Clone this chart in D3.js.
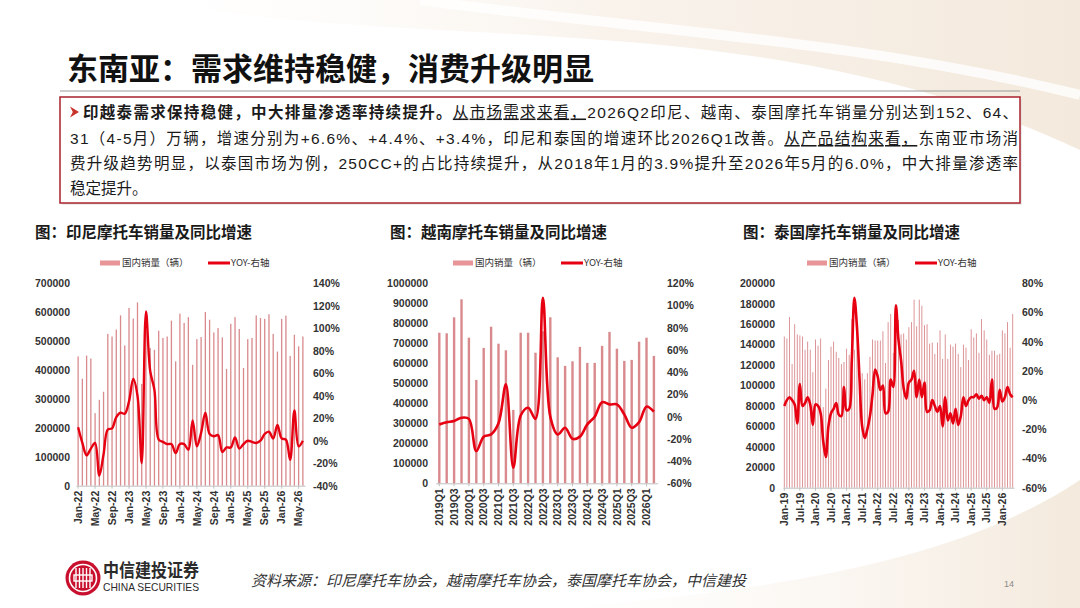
<!DOCTYPE html>
<html>
<head>
<meta charset="UTF-8">
<title>东南亚：需求维持稳健，消费升级明显</title>
<script src="https://d3js.org/d3.v7.min.js"></script>
<style>
body { margin: 0; background: #fff; }
figure { margin: 0; }
svg { display: block; }
</style>
</head>
<body>

<figure class=chart></figure>

<script type="text/javascript">

/* Data */
// Indonesia, monthly, Jan-22 .. Jun-26
var idnMonths = [
	'Jan-22','Feb-22','Mar-22','Apr-22','May-22','Jun-22','Jul-22','Aug-22','Sep-22','Oct-22','Nov-22','Dec-22',
	'Jan-23','Feb-23','Mar-23','Apr-23','May-23','Jun-23','Jul-23','Aug-23','Sep-23','Oct-23','Nov-23','Dec-23',
	'Jan-24','Feb-24','Mar-24','Apr-24','May-24','Jun-24','Jul-24','Aug-24','Sep-24','Oct-24','Nov-24','Dec-24',
	'Jan-25','Feb-25','Mar-25','Apr-25','May-25','Jun-25','Jul-25','Aug-25','Sep-25','Oct-25','Nov-25','Dec-25',
	'Jan-26','Feb-26','Mar-26','Apr-26','May-26','Jun-26']
var idnSales = [
	447000,370000,450000,440000,251000,297000,325000,525000,516000,540000,589000,485000,
	615000,578000,634000,352000,537000,476000,470000,536000,511000,516000,571000,430000,
	595000,563000,583000,418000,507000,514000,601000,574000,530000,545000,513000,404000,
	560000,583000,542000,407000,507000,511000,589000,580000,577000,593000,525000,464000,
	577000,588000,449000,522000,482000,516000]
var idnYoy = [
	12,-2,-13,-7,-2,-31,-12,10,11,21,25,24,
	35,55,40,-20,115,62,45,1,-1,-3,-3,-11,
	-3,-3,-8,18,-5,7,25,6,4,5,-10,-6,
	-6,3,-7,-3,0,-1,-2,0,6,8,2,14,
	2,1,-17,27,-5,0]
var idnTicks = ['Jan-22','May-22','Sep-22','Jan-23','May-23','Sep-23','Jan-24','May-24','Sep-24','Jan-25','May-25','Sep-25','Jan-26','May-26']
var idnLeftTicks = [0,100000,200000,300000,400000,500000,600000,700000]
var idnRightTicks = [-40,-20,0,20,40,60,80,100,120,140]

// Vietnam, quarterly, 2019Q1 .. 2026Q2
var vnQuarters = [
	'2019Q1','2019Q2','2019Q3','2019Q4','2020Q1','2020Q2','2020Q3','2020Q4',
	'2021Q1','2021Q2','2021Q3','2021Q4','2022Q1','2022Q2','2022Q3','2022Q4',
	'2023Q1','2023Q2','2023Q3','2023Q4','2024Q1','2024Q2','2024Q3','2024Q4',
	'2025Q1','2025Q2','2025Q3','2025Q4','2026Q1','2026Q2']
var vnSales = [
	753000,750000,830000,920000,728000,517000,677000,783000,
	698000,665000,367000,753000,753000,653000,760000,830000,
	630000,587000,610000,682000,602000,602000,687000,757000,
	673000,612000,617000,708000,728000,637000]
var vnYoy = [
	-7,-5,-4,-1,-2,-31,-18,-16,
	-6,29,-46,1,8,-2,107,0,
	-16,-10,-20,-18,-7,0,13,11,
	11,2,-10,-5,9,4.4]
var vnTicks = ['2019Q1','2019Q3','2020Q1','2020Q3','2021Q1','2021Q3','2022Q1','2022Q3','2023Q1','2023Q3','2024Q1','2024Q3','2025Q1','2025Q3','2026Q1']
var vnLeftTicks = [0,100000,200000,300000,400000,500000,600000,700000,800000,900000,1000000]
var vnRightTicks = [-60,-40,-20,0,20,40,60,80,100,120]

// Thailand, monthly, Jan-19 .. May-26
var thMonths = [
	'Jan-19','Feb-19','Mar-19','Apr-19','May-19','Jun-19','Jul-19','Aug-19','Sep-19','Oct-19','Nov-19','Dec-19',
	'Jan-20','Feb-20','Mar-20','Apr-20','May-20','Jun-20','Jul-20','Aug-20','Sep-20','Oct-20','Nov-20','Dec-20',
	'Jan-21','Feb-21','Mar-21','Apr-21','May-21','Jun-21','Jul-21','Aug-21','Sep-21','Oct-21','Nov-21','Dec-21',
	'Jan-22','Feb-22','Mar-22','Apr-22','May-22','Jun-22','Jul-22','Aug-22','Sep-22','Oct-22','Nov-22','Dec-22',
	'Jan-23','Feb-23','Mar-23','Apr-23','May-23','Jun-23','Jul-23','Aug-23','Sep-23','Oct-23','Nov-23','Dec-23',
	'Jan-24','Feb-24','Mar-24','Apr-24','May-24','Jun-24','Jul-24','Aug-24','Sep-24','Oct-24','Nov-24','Dec-24',
	'Jan-25','Feb-25','Mar-25','Apr-25','May-25','Jun-25','Jul-25','Aug-25','Sep-25','Oct-25','Nov-25','Dec-25',
	'Jan-26','Feb-26','Mar-26','Apr-26','May-26']
var thSales = [
	148000,146000,167000,121000,160000,150000,149000,148000,135000,143000,135000,113000,
	145000,139000,146000,79000,97000,125000,138000,143000,133000,127000,121000,123000,
	136000,130000,165000,135000,162000,120000,112000,106000,112000,128000,145000,144000,
	144000,144000,153000,122000,162000,170000,132000,178000,164000,150000,151000,145000,
	157000,162000,184000,158000,184000,178000,159000,160000,141000,142000,131000,142000,
	154000,126000,150000,126000,140000,138000,141000,131000,118000,140000,137000,125000,
	155000,147000,151000,132000,165000,154000,145000,130000,134000,134000,130000,131000,
	154000,151000,162000,137000,170000]
var thYoy = [
	-4,0,2,0,-3,-16,11,-4,-2,2,-3,-17,
	-3,-4,-9,-28,-39,-18,-9,-6,-2,-10,-11,9,
	-7,-6,27,70,50,14,-18,-26,-20,-11,4,21,
	16,7,10,-9,-8,14,9,65,41,27,8,1,
	12,14,20,2,14,2,12,-8,-7,0,-4,-8,
	-4,-18,2,-14,-9,-16,-6,-17,-11,2,-4,0,
	2,2,4,1,3,0,2,-2,14,-6,-5,7,
	-1,2,9,4,2]
var thTicks = ['Jan-19','Jul-19','Jan-20','Jul-20','Jan-21','Jul-21','Jan-22','Jul-22','Jan-23','Jul-23','Jan-24','Jul-24','Jan-25','Jul-25','Jan-26']
var thLeftTicks = [0,20000,40000,60000,80000,100000,120000,140000,160000,180000,200000]
var thRightTicks = [-60,-40,-20,0,20,40,60,80]

/* Global variables */
var W = 1080, H = 608
var lineRed = '#e60012'
var barPink = '#d98a8d'
var legendPink = '#e89597'
var cjk = "'Noto Sans CJK SC', sans-serif"
var latin = "'Liberation Sans', 'Noto Sans CJK SC', sans-serif"

/* Functions */

function draw_canvas() {
	var svg = d3.select('figure')
		.append('svg')
		.attr('width', W)
		.attr('height', H)

	svg.append('rect')
		.attr('width', W)
		.attr('height', H)
		.style('fill', '#fff')

	var defs = svg.append('defs')
	var gTop = defs.append('linearGradient').attr('id', 'bgTop')
		.attr('x1', 0).attr('y1', 0).attr('x2', 1).attr('y2', 0)
	gTop.append('stop').attr('offset', 0).attr('stop-color', '#fbf6ef').attr('stop-opacity', 0)
	gTop.append('stop').attr('offset', 0.5).attr('stop-color', '#f4e9dc').attr('stop-opacity', 0.8)
	gTop.append('stop').attr('offset', 1).attr('stop-color', '#eddcc8').attr('stop-opacity', 0.9)
	var gBot = defs.append('linearGradient').attr('id', 'bgBot')
		.attr('x1', 0).attr('y1', 0).attr('x2', 1).attr('y2', 0)
	gBot.append('stop').attr('offset', 0).attr('stop-color', '#f8f1e8').attr('stop-opacity', 0)
	gBot.append('stop').attr('offset', 1).attr('stop-color', '#efe1cf').attr('stop-opacity', 0.9)

	// soft swooshes of the slide template
	svg.append('path')
		.attr('d', 'M150,0 C420,55 760,0 1080,150 L1080,0 Z')
		.style('fill', 'url(#bgTop)')
		.style('opacity', 0.7)
	svg.append('path')
		.attr('d', 'M420,0 C640,30 860,40 1080,95')
		.style('fill', 'none').style('stroke', '#fff').style('stroke-width', 10).style('opacity', 0.8)
	svg.append('path')
		.attr('d', 'M560,608 C780,590 960,560 1080,480 L1080,608 Z')
		.style('fill', 'url(#bgBot)')
		.style('opacity', 0.8)
}

function draw_header() {
	var svg = d3.select('svg')

	svg.append('text')
		.attr('x', 67)
		.attr('y', 80)
		.style('font-family', cjk)
		.style('font-weight', 700)
		.style('font-size', '31px')
		.style('fill', '#111')
		.text('东南亚：需求维持稳健，消费升级明显')

	svg.append('line')
		.attr('x1', 60).attr('x2', 1020)
		.attr('y1', 91).attr('y2', 91)
		.style('stroke', '#9a9a9a').style('stroke-width', 1)

	// box shadow + box
	svg.append('rect')
		.attr('x', 62).attr('y', 99).attr('width', 960).attr('height', 106)
		.style('fill', '#ddd').style('opacity', 0.6)
	svg.append('rect')
		.attr('x', 60).attr('y', 97).attr('width', 960).attr('height', 106)
		.style('fill', '#fff').style('stroke', '#a8222c').style('stroke-width', 1.5)

	// arrow bullet
	svg.append('path')
		.attr('d', 'M70,106.5 L79,112 L70,117.5 L72.8,112 Z')
		.style('fill', '#c8342b')

	var lines = [
		{x: 83, y: 117.5, len: 935, parts: [
			{t: '印越泰需求保持稳健，中大排量渗透率持续提升。', b: true},
			{t: '从市场需求来看，', u: true},
			{t: '2026Q2印尼、越南、泰国摩托车销量分别达到152、64、'}]},
		{x: 70, y: 144, len: 948, parts: [
			{t: '31（4-5月）万辆，增速分别为+6.6%、+4.4%、+3.4%，印尼和泰国的增速环比2026Q1改善。'},
			{t: '从产品结构来看，', u: true},
			{t: '东南亚市场消'}]},
		{x: 70, y: 169, len: 948, parts: [
			{t: '费升级趋势明显，以泰国市场为例，250CC+的占比持续提升，从2018年1月的3.9%提升至2026年5月的6.0%，中大排量渗透率'}]},
		{x: 70, y: 194, len: null, parts: [
			{t: '稳定提升。'}]}
	]

	lines.forEach(function(l) {
		var t = svg.append('text')
			.attr('x', l.x)
			.attr('y', l.y)
			.style('font-family', latin)
			.style('font-size', '15.5px')
			.style('fill', '#1a1a1a')
		if (l.len) {
			t.attr('textLength', l.len).attr('lengthAdjust', 'spacing')
		}
		l.parts.forEach(function(p) {
			var s = t.append('tspan').text(p.t)
			if (p.b) { s.style('font-weight', 700) }
			if (p.u) { s.style('text-decoration', 'underline') }
		})
	})
}

function draw_chart(o) {
	var svg = d3.select('svg')
	var g = svg.append('g')

	var x = d3.scaleBand().domain(o.cats).range([o.x0, o.x1])
	var yL = d3.scaleLinear().domain(d3.extent(o.leftTicks)).range([o.yBottom, o.yTop])
	var yR = d3.scaleLinear().domain(d3.extent(o.rightTicks)).range([o.yBottom, o.yTop])
	var bw = x.bandwidth()

	// chart title
	g.append('text')
		.attr('x', o.titleX)
		.attr('y', 238)
		.style('font-family', cjk)
		.style('font-weight', 700)
		.style('font-size', '15.5px')
		.style('fill', '#1a1a1a')
		.text(o.title)

	// legend
	var lg = g.append('g').style('font-family', cjk).style('font-size', '9.5px').style('fill', '#333')
	lg.append('rect')
		.attr('x', o.legX).attr('y', 260.5).attr('width', 20).attr('height', 5)
		.style('fill', legendPink)
	lg.append('text').attr('x', o.legX + 22).attr('y', 266).text('国内销量（辆）')
	lg.append('line')
		.attr('x1', o.legX + 108).attr('x2', o.legX + 130)
		.attr('y1', 263).attr('y2', 263)
		.style('stroke', lineRed).style('stroke-width', 3)
	lg.append('text').attr('x', o.legX + 131).attr('y', 266).text('YOY-右轴')

	// bars
	g.append('g').selectAll('rect')
		.data(o.sales)
		.enter()
		.append('rect')
		.attr('x', function(d, i) { return x(o.cats[i]) + (bw - o.barW) / 2 })
		.attr('y', function(d) { return yL(d) })
		.attr('width', o.barW)
		.attr('height', function(d) { return o.yBottom - yL(d) })
		.style('fill', barPink)

	// x axis
	var xAxis = d3.axisBottom(x).tickValues(o.ticks).tickSize(3).tickSizeOuter(0)
	var gx = g.append('g')
		.attr('transform', 'translate(0,' + o.yBottom + ')')
		.call(xAxis)
	gx.select('.domain').style('stroke', '#bfbfbf')
	gx.selectAll('.tick line').style('stroke', '#bfbfbf')
	gx.selectAll('.tick text')
		.attr('transform', 'rotate(-90)')
		.attr('x', -5)
		.attr('y', 0)
		.attr('dy', '0.35em')
		.style('text-anchor', 'end')
		.style('font-family', latin)
		.style('font-weight', 700)
		.style('font-size', '10.5px')
		.style('fill', '#333')

	// yoy line
	var line = d3.line()
		.x(function(d, i) { return x(o.cats[i]) + bw / 2 })
		.y(function(d) { return yR(d) })
		.curve(d3.curveCatmullRom.alpha(0.5))
	g.append('path')
		.datum(o.yoy)
		.attr('d', line)
		.style('fill', 'none')
		.style('stroke', lineRed)
		.style('stroke-width', o.lineW)
		.style('stroke-linejoin', 'round')

	// left axis (volume)
	var gl = g.append('g')
		.attr('transform', 'translate(' + o.leftLabelX + ',0)')
		.call(d3.axisLeft(yL).tickValues(o.leftTicks).tickSize(0).tickPadding(0).tickFormat(d3.format('d')))
	// right axis (yoy %)
	var gr = g.append('g')
		.attr('transform', 'translate(' + o.rightLabelX + ',0)')
		.call(d3.axisRight(yR).tickValues(o.rightTicks).tickSize(0).tickPadding(0).tickFormat(function(d) { return d + '%' }))
	;[gl, gr].forEach(function(a) {
		a.select('.domain').remove()
		a.selectAll('text')
			.style('font-family', latin)
			.style('font-weight', 700)
			.style('font-size', '10.5px')
			.style('fill', '#333')
	})
}

function draw_footer() {
	var svg = d3.select('svg')

	// logo mark
	var lg = svg.append('g').attr('transform', 'translate(83,578)')
	lg.append('circle').attr('r', 17.5).style('fill', '#c8102e')
	lg.append('circle').attr('r', 13.5).style('fill', 'none').style('stroke', '#fff').style('stroke-width', 1.6)
	;[-7, -3.5, 0, 3.5, 7].forEach(function(dx) {
		lg.append('line')
			.attr('x1', dx).attr('x2', dx)
			.attr('y1', -10).attr('y2', 10)
			.style('stroke', '#fff').style('stroke-width', 1.4)
	})
	lg.append('rect').attr('x', -9).attr('y', -3).attr('width', 18).attr('height', 6)
		.style('fill', 'none').style('stroke', '#fff').style('stroke-width', 1.4)

	svg.append('text')
		.attr('x', 103).attr('y', 577)
		.attr('textLength', 96).attr('lengthAdjust', 'spacingAndGlyphs')
		.style('font-family', cjk).style('font-weight', 700).style('font-size', '18px')
		.style('fill', '#2b2b2b')
		.text('中信建投证券')
	svg.append('text')
		.attr('x', 103).attr('y', 591)
		.attr('textLength', 96).attr('lengthAdjust', 'spacingAndGlyphs')
		.style('font-family', "'Liberation Sans Narrow', 'Liberation Sans', sans-serif")
		.style('font-size', '11.5px')
		.style('fill', '#2b2b2b')
		.text('CHINA SECURITIES')

	svg.append('text')
		.attr('x', 251).attr('y', 586)
		.style('font-family', cjk).style('font-style', 'italic').style('font-size', '15px')
		.style('fill', '#333')
		.text('资料来源：印尼摩托车协会，越南摩托车协会，泰国摩托车协会，中信建投')

	svg.append('text')
		.attr('x', 1004).attr('y', 587)
		.style('font-family', latin).style('font-size', '9px')
		.style('fill', '#8a8a8a')
		.text('14')
}

/* Main code */
draw_canvas()
draw_header()
draw_chart({
	title: '图：印尼摩托车销量及同比增速', titleX: 35, legX: 100,
	cats: idnMonths, sales: idnSales, yoy: idnYoy, ticks: idnTicks,
	leftTicks: idnLeftTicks, rightTicks: idnRightTicks,
	x0: 76, x1: 305, yBottom: 485.7, yTop: 283.3,
	leftLabelX: 70, rightLabelX: 313, barW: 1.3, lineW: 2.4
})
draw_chart({
	title: '图：越南摩托车销量及同比增速', titleX: 390, legX: 453,
	cats: vnQuarters, sales: vnSales, yoy: vnYoy, ticks: vnTicks,
	leftTicks: vnLeftTicks, rightTicks: vnRightTicks,
	x0: 435.6, x1: 657.6, yBottom: 483.3, yTop: 283.3,
	leftLabelX: 428, rightLabelX: 667, barW: 2.4, lineW: 2.6
})
draw_chart({
	title: '图：泰国摩托车销量及同比增速', titleX: 743, legX: 807,
	cats: thMonths, sales: thSales, yoy: thYoy, ticks: thTicks,
	leftTicks: thLeftTicks, rightTicks: thRightTicks,
	x0: 783, x1: 1014, yBottom: 487.7, yTop: 283.3,
	leftLabelX: 775, rightLabelX: 1022, barW: 0.9, lineW: 2.6
})
draw_footer()

</script>

</body>

</html>
